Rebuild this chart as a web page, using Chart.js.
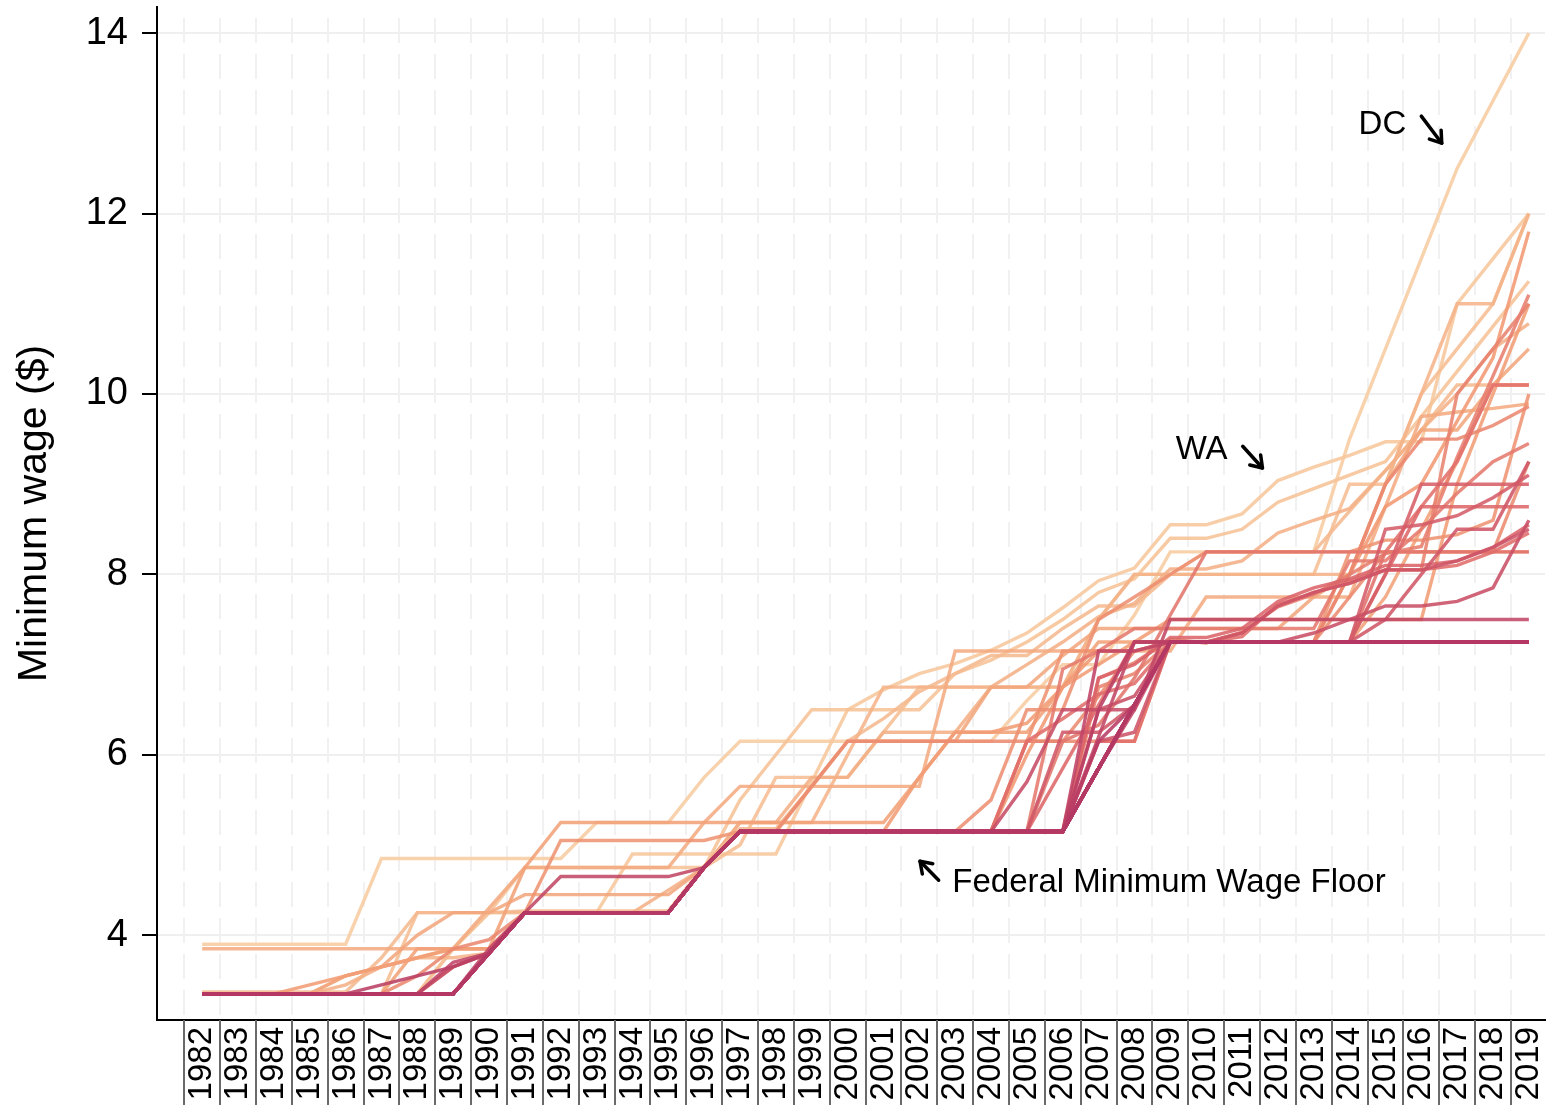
<!DOCTYPE html>
<html>
<head>
<meta charset="utf-8">
<script src="https://cdn.jsdelivr.net/npm/chart.js@4.4.0/dist/chart.umd.min.js"></script>
<style>
  html, body { margin: 0; padding: 0; background: #fff; }
</style>
</head>
<body>
<canvas id="grafica" width="1550" height="1105"></canvas>
<script>
// Años y ticks
const years = [1982, 1983, 1984, 1985, 1986, 1987, 1988, 1989,
  1990, 1991, 1992, 1993, 1994, 1995, 1996, 1997, 1998, 1999,
  2000, 2001, 2002, 2003, 2004, 2005, 2006, 2007, 2008, 2009,
  2010, 2011, 2012, 2013, 2014, 2015, 2016, 2017, 2018, 2019];
const yTicks = [4, 6, 8, 10, 12, 14];

// Salario mínimo federal (piso)
const fed = [3.35, 3.35, 3.35, 3.35, 3.35, 3.35, 3.35, 3.35,
  3.80, 4.25, 4.25, 4.25, 4.25, 4.25, 4.75, 5.15, 5.15, 5.15,
  5.15, 5.15, 5.15, 5.15, 5.15, 5.15, 5.15, 5.85, 6.55, 7.25,
  7.25, 7.25, 7.25, 7.25, 7.25, 7.25, 7.25, 7.25, 7.25, 7.25];
// Estados que siguen exactamente el piso federal
const federalStates = ["AL", "GA", "ID", "IN", "KS", "KY", "LA", "MS",
  "ND", "OK", "SC", "TN", "TX", "UT", "VA", "WY"];

const DC = [3.90, 3.90, 3.90, 3.90, 3.90, 4.85, 4.85, 4.85,
  4.85, 4.85, 4.85, 5.25, 5.25, 5.25, 5.75, 6.15, 6.15, 6.15,
  6.15, 6.15, 6.15, 6.15, 6.15, 6.60, 7.00, 7.00, 7.55, 8.25,
  8.25, 8.25, 8.25, 8.25, 9.50, 10.50, 11.50, 12.50, 13.25, 14.00];
const AK = [3.85, 3.85, 3.85, 3.85, 3.85, 3.85, 3.85, 3.85,
  4.30, 4.75, 4.75, 4.75, 4.75, 4.75, 5.25, 5.65, 5.65, 5.65,
  5.65, 5.65, 5.65, 7.15, 7.15, 7.15, 7.15, 7.15, 7.15, 7.15,
  7.75, 7.75, 7.75, 7.75, 7.75, 8.75, 9.75, 9.80, 9.84, 9.89];
const AZ = [3.35, 3.35, 3.35, 3.35, 3.35, 3.35, 3.35, 3.35,
  3.80, 4.25, 4.25, 4.25, 4.25, 4.25, 4.75, 5.15, 5.15, 5.15,
  5.15, 5.15, 5.15, 5.15, 5.15, 5.15, 5.15, 6.75, 6.90, 7.25,
  7.25, 7.35, 7.65, 7.80, 7.90, 8.05, 8.05, 10.00, 10.50, 11.00];
const AR = [3.35, 3.35, 3.35, 3.35, 3.35, 3.35, 3.35, 3.35,
  3.80, 4.25, 4.25, 4.25, 4.25, 4.25, 4.75, 5.15, 5.15, 5.15,
  5.15, 5.15, 5.15, 5.15, 5.15, 5.15, 6.25, 6.25, 6.55, 7.25,
  7.25, 7.25, 7.25, 7.25, 7.25, 7.50, 8.00, 8.50, 8.50, 9.25];
const CA = [3.35, 3.35, 3.35, 3.35, 3.35, 3.35, 4.25, 4.25,
  4.25, 4.25, 4.25, 4.25, 4.25, 4.25, 4.75, 5.00, 5.75, 5.75,
  5.75, 6.25, 6.75, 6.75, 6.75, 6.75, 6.75, 7.50, 8.00, 8.00,
  8.00, 8.00, 8.00, 8.00, 9.00, 9.00, 10.00, 10.50, 11.00, 12.00];
const CO = [3.35, 3.35, 3.35, 3.35, 3.35, 3.35, 3.35, 3.35,
  3.80, 4.25, 4.25, 4.25, 4.25, 4.25, 4.75, 5.15, 5.15, 5.15,
  5.15, 5.15, 5.15, 5.15, 5.15, 5.15, 5.15, 6.85, 7.02, 7.28,
  7.24, 7.36, 7.64, 7.78, 8.00, 8.23, 8.31, 9.30, 10.20, 11.10];
const CT = [3.37, 3.37, 3.37, 3.37, 3.37, 3.75, 4.25, 4.25,
  4.25, 4.27, 4.27, 4.27, 4.27, 4.27, 4.77, 5.18, 5.18, 5.65,
  6.15, 6.40, 6.70, 6.90, 7.10, 7.10, 7.40, 7.65, 7.65, 8.00,
  8.25, 8.25, 8.25, 8.25, 8.70, 9.15, 9.60, 10.10, 10.10, 10.10];
const DE = [3.35, 3.35, 3.35, 3.35, 3.35, 3.35, 3.35, 3.65,
  3.80, 4.25, 4.25, 4.25, 4.25, 4.25, 4.75, 5.15, 5.15, 5.65,
  6.15, 6.15, 6.15, 6.15, 6.15, 6.15, 6.15, 6.65, 7.15, 7.25,
  7.25, 7.25, 7.25, 7.25, 7.75, 8.25, 8.25, 8.25, 8.25, 9.25];
const FL = [3.35, 3.35, 3.35, 3.35, 3.35, 3.35, 3.35, 3.35,
  3.80, 4.25, 4.25, 4.25, 4.25, 4.25, 4.75, 5.15, 5.15, 5.15,
  5.15, 5.15, 5.15, 5.15, 5.15, 6.15, 6.40, 6.67, 6.79, 7.25,
  7.25, 7.31, 7.67, 7.79, 7.93, 8.05, 8.05, 8.10, 8.25, 8.46];
const HI = [3.35, 3.35, 3.35, 3.35, 3.35, 3.35, 3.85, 3.85,
  3.85, 4.75, 5.25, 5.25, 5.25, 5.25, 5.25, 5.25, 5.25, 5.25,
  5.25, 5.25, 5.75, 6.25, 6.25, 6.25, 6.75, 7.25, 7.25, 7.25,
  7.25, 7.25, 7.25, 7.25, 7.25, 7.75, 8.50, 9.25, 10.10, 10.10];
const IL = [3.35, 3.35, 3.35, 3.35, 3.35, 3.35, 3.35, 3.35,
  3.80, 4.25, 4.25, 4.25, 4.25, 4.25, 4.75, 5.15, 5.15, 5.15,
  5.15, 5.15, 5.15, 5.15, 5.50, 6.50, 6.50, 7.50, 7.75, 8.00,
  8.25, 8.25, 8.25, 8.25, 8.25, 8.25, 8.25, 8.25, 8.25, 8.25];
const IA = [3.35, 3.35, 3.35, 3.35, 3.35, 3.35, 3.35, 3.35,
  3.85, 4.25, 4.65, 4.65, 4.65, 4.65, 4.75, 5.15, 5.15, 5.15,
  5.15, 5.15, 5.15, 5.15, 5.15, 5.15, 5.15, 6.20, 7.25, 7.25,
  7.25, 7.25, 7.25, 7.25, 7.25, 7.25, 7.25, 7.25, 7.25, 7.25];
const ME = [3.35, 3.35, 3.35, 3.45, 3.55, 3.65, 3.75, 3.85,
  3.85, 4.25, 4.25, 4.25, 4.25, 4.25, 4.75, 5.15, 5.15, 5.15,
  5.15, 5.15, 5.75, 6.25, 6.25, 6.35, 6.75, 7.00, 7.25, 7.50,
  7.50, 7.50, 7.50, 7.50, 7.50, 7.50, 7.50, 9.00, 10.00, 11.00];
const MD = [3.35, 3.35, 3.35, 3.35, 3.35, 3.35, 3.35, 3.35,
  3.80, 4.25, 4.25, 4.25, 4.25, 4.25, 4.75, 5.15, 5.15, 5.15,
  5.15, 5.15, 5.15, 5.15, 5.15, 5.15, 5.15, 6.15, 6.15, 7.25,
  7.25, 7.25, 7.25, 7.25, 7.25, 8.25, 8.75, 9.25, 10.10, 10.10];
const MA = [3.35, 3.35, 3.35, 3.35, 3.55, 3.65, 3.75, 3.75,
  3.80, 4.25, 4.25, 4.25, 4.25, 4.25, 4.75, 5.25, 5.25, 5.25,
  6.00, 6.75, 6.75, 6.75, 6.75, 6.75, 6.75, 7.50, 8.00, 8.00,
  8.00, 8.00, 8.00, 8.00, 8.00, 9.00, 10.00, 11.00, 11.00, 12.00];
const MI = [3.35, 3.35, 3.35, 3.35, 3.35, 3.35, 3.35, 3.35,
  3.80, 4.25, 4.25, 4.25, 4.25, 4.25, 4.75, 5.15, 5.15, 5.15,
  5.15, 5.15, 5.15, 5.15, 5.15, 5.15, 6.95, 7.15, 7.40, 7.40,
  7.40, 7.40, 7.40, 7.40, 8.15, 8.15, 8.50, 8.90, 9.25, 9.45];
const MN = [3.35, 3.35, 3.35, 3.35, 3.35, 3.35, 3.55, 3.85,
  3.95, 4.25, 4.25, 4.25, 4.25, 4.25, 4.75, 5.15, 5.15, 5.15,
  5.15, 5.15, 5.15, 5.15, 5.15, 6.15, 6.15, 6.15, 6.15, 7.25,
  7.25, 7.25, 7.25, 7.25, 8.00, 9.00, 9.50, 9.50, 9.65, 9.86];
const MO = [3.35, 3.35, 3.35, 3.35, 3.35, 3.35, 3.35, 3.35,
  3.80, 4.25, 4.25, 4.25, 4.25, 4.25, 4.75, 5.15, 5.15, 5.15,
  5.15, 5.15, 5.15, 5.15, 5.15, 5.15, 5.15, 6.50, 6.65, 7.25,
  7.25, 7.25, 7.25, 7.35, 7.50, 7.65, 7.65, 7.70, 7.85, 8.60];
const MT = [3.35, 3.35, 3.35, 3.35, 3.35, 3.35, 3.35, 3.35,
  3.80, 4.25, 4.25, 4.25, 4.25, 4.25, 4.75, 5.15, 5.15, 5.15,
  5.15, 5.15, 5.15, 5.15, 5.15, 5.15, 5.15, 6.15, 6.25, 7.25,
  7.25, 7.35, 7.65, 7.80, 7.90, 8.05, 8.05, 8.15, 8.30, 8.50];
const NE = [3.35, 3.35, 3.35, 3.35, 3.35, 3.35, 3.35, 3.35,
  3.80, 4.25, 4.25, 4.25, 4.25, 4.25, 4.75, 5.15, 5.15, 5.15,
  5.15, 5.15, 5.15, 5.15, 5.15, 5.15, 5.15, 5.85, 6.55, 7.25,
  7.25, 7.25, 7.25, 7.25, 7.25, 8.00, 9.00, 9.00, 9.00, 9.00];
const NV = [3.35, 3.35, 3.35, 3.35, 3.35, 3.35, 3.35, 3.35,
  3.80, 4.25, 4.25, 4.25, 4.25, 4.25, 4.75, 5.15, 5.15, 5.15,
  5.15, 5.15, 5.15, 5.15, 5.15, 5.15, 6.15, 6.33, 6.85, 7.55,
  8.25, 8.25, 8.25, 8.25, 8.25, 8.25, 8.25, 8.25, 8.25, 8.25];
const NH = [3.35, 3.35, 3.35, 3.35, 3.35, 3.45, 3.55, 3.65,
  3.80, 4.25, 4.25, 4.25, 4.25, 4.25, 4.75, 5.15, 5.15, 5.15,
  5.15, 5.15, 5.15, 5.15, 5.15, 5.15, 5.15, 6.50, 7.25, 7.25,
  7.25, 7.25, 7.25, 7.25, 7.25, 7.25, 7.25, 7.25, 7.25, 7.25];
const NJ = [3.35, 3.35, 3.35, 3.35, 3.35, 3.35, 3.35, 3.35,
  3.80, 4.25, 5.05, 5.05, 5.05, 5.05, 5.05, 5.15, 5.15, 5.15,
  5.15, 5.15, 5.15, 5.15, 5.15, 6.15, 7.15, 7.15, 7.15, 7.25,
  7.25, 7.25, 7.25, 7.25, 8.25, 8.38, 8.38, 8.44, 8.60, 10.00];
const NM = [3.35, 3.35, 3.35, 3.35, 3.35, 3.35, 3.35, 3.35,
  3.80, 4.25, 4.25, 4.25, 4.25, 4.25, 4.75, 5.15, 5.15, 5.15,
  5.15, 5.15, 5.15, 5.15, 5.15, 5.15, 5.15, 5.85, 6.50, 7.50,
  7.50, 7.50, 7.50, 7.50, 7.50, 7.50, 7.50, 7.50, 7.50, 7.50];
const NY = [3.35, 3.35, 3.35, 3.35, 3.35, 3.35, 3.35, 3.35,
  3.80, 4.25, 4.25, 4.25, 4.25, 4.25, 4.75, 5.15, 5.15, 5.15,
  5.15, 5.15, 5.15, 5.15, 5.15, 6.00, 6.75, 7.15, 7.15, 7.25,
  7.25, 7.25, 7.25, 7.25, 8.00, 8.75, 9.00, 9.70, 10.40, 11.80];
const NC = [3.35, 3.35, 3.35, 3.35, 3.35, 3.35, 3.35, 3.35,
  3.80, 4.25, 4.25, 4.25, 4.25, 4.25, 4.75, 5.15, 5.15, 5.15,
  5.15, 5.15, 5.15, 5.15, 5.15, 5.15, 5.15, 6.15, 6.55, 7.25,
  7.25, 7.25, 7.25, 7.25, 7.25, 7.25, 7.25, 7.25, 7.25, 7.25];
const OH = [3.35, 3.35, 3.35, 3.35, 3.35, 3.35, 3.35, 3.35,
  3.80, 4.25, 4.25, 4.25, 4.25, 4.25, 4.75, 5.15, 5.15, 5.15,
  5.15, 5.15, 5.15, 5.15, 5.15, 5.15, 5.15, 6.85, 7.00, 7.30,
  7.30, 7.40, 7.70, 7.85, 7.95, 8.10, 8.10, 8.15, 8.30, 8.55];
const OR = [3.35, 3.35, 3.35, 3.35, 3.35, 3.35, 3.35, 3.85,
  4.25, 4.75, 4.75, 4.75, 4.75, 4.75, 4.75, 5.50, 6.00, 6.50,
  6.50, 6.50, 6.50, 6.90, 7.05, 7.25, 7.50, 7.80, 7.95, 8.40,
  8.40, 8.50, 8.80, 8.95, 9.10, 9.25, 9.75, 10.25, 10.75, 11.25];
const PA = [3.35, 3.35, 3.35, 3.35, 3.35, 3.35, 3.35, 3.70,
  3.80, 4.25, 4.25, 4.25, 4.25, 4.25, 4.75, 5.15, 5.15, 5.15,
  5.15, 5.15, 5.15, 5.15, 5.15, 5.15, 5.15, 7.15, 7.15, 7.25,
  7.25, 7.25, 7.25, 7.25, 7.25, 7.25, 7.25, 7.25, 7.25, 7.25];
const RI = [3.35, 3.35, 3.35, 3.35, 3.55, 3.65, 4.00, 4.25,
  4.25, 4.45, 4.45, 4.45, 4.45, 4.45, 4.75, 5.15, 5.15, 5.65,
  6.15, 6.15, 6.15, 6.15, 6.75, 6.75, 7.10, 7.40, 7.40, 7.40,
  7.40, 7.40, 7.40, 7.75, 8.00, 9.00, 9.60, 9.60, 10.10, 10.50];
const SD = [3.35, 3.35, 3.35, 3.35, 3.35, 3.35, 3.35, 3.35,
  3.80, 4.25, 4.25, 4.25, 4.25, 4.25, 4.75, 5.15, 5.15, 5.15,
  5.15, 5.15, 5.15, 5.15, 5.15, 5.15, 5.15, 5.85, 6.55, 7.25,
  7.25, 7.25, 7.25, 7.25, 7.25, 8.50, 8.55, 8.65, 8.85, 9.10];
const VT = [3.35, 3.35, 3.35, 3.35, 3.45, 3.65, 3.75, 3.85,
  3.85, 4.25, 4.25, 4.25, 4.25, 4.50, 4.75, 5.25, 5.25, 5.75,
  5.75, 6.25, 6.25, 6.25, 6.75, 7.00, 7.25, 7.53, 7.68, 8.06,
  8.06, 8.15, 8.46, 8.60, 8.73, 9.15, 9.60, 10.00, 10.50, 10.78];
const WA = [3.35, 3.35, 3.35, 3.35, 3.35, 3.35, 3.35, 3.85,
  4.25, 4.25, 4.25, 4.25, 4.90, 4.90, 4.90, 4.90, 4.90, 5.70,
  6.50, 6.72, 6.90, 7.01, 7.16, 7.35, 7.63, 7.93, 8.07, 8.55,
  8.55, 8.67, 9.04, 9.19, 9.32, 9.47, 9.47, 11.00, 11.50, 12.00];
const WV = [3.35, 3.35, 3.35, 3.35, 3.35, 3.35, 3.35, 3.35,
  3.80, 4.25, 4.25, 4.25, 4.25, 4.25, 4.75, 5.15, 5.15, 5.15,
  5.15, 5.15, 5.15, 5.15, 5.15, 5.15, 5.85, 6.55, 7.25, 7.25,
  7.25, 7.25, 7.25, 7.25, 7.25, 8.00, 8.75, 8.75, 8.75, 8.75];
const WI = [3.35, 3.35, 3.35, 3.35, 3.35, 3.35, 3.35, 3.65,
  3.80, 4.25, 4.25, 4.25, 4.25, 4.25, 4.75, 5.15, 5.15, 5.15,
  5.15, 5.15, 5.15, 5.15, 5.15, 5.70, 6.50, 6.50, 6.50, 7.25,
  7.25, 7.25, 7.25, 7.25, 7.25, 7.25, 7.25, 7.25, 7.25, 7.25];

const FONT = "'Liberation Sans', Arial, Helvetica, sans-serif";

// Anotaciones en coordenadas de datos (año, dólares)
const notas = [
  { text: "DC", at: [2014.25, 12.98], from: [2016.0, 13.08], to: [2016.57, 12.78] },
  { text: "WA", at: [2009.15, 9.38], from: [2011.02, 9.42], to: [2011.57, 9.18] },
  { text: "Federal Minimum Wage Floor", at: [2002.92, 4.58], from: [2002.54, 4.61], to: [2002.02, 4.82] }
];

const series = [
  ["DC", DC], ["AK", AK], ["AZ", AZ], ["AR", AR], ["CA", CA], ["CO", CO], ["CT", CT],
  ["DE", DE], ["FL", FL], ["HI", HI], ["IL", IL], ["IA", IA], ["ME", ME], ["MD", MD],
  ["MA", MA], ["MI", MI], ["MN", MN], ["MO", MO], ["MT", MT], ["NE", NE], ["NV", NV],
  ["NH", NH], ["NJ", NJ], ["NM", NM], ["NY", NY], ["NC", NC], ["OH", OH], ["OR", OR],
  ["PA", PA], ["RI", RI], ["SD", SD], ["VT", VT], ["WA", WA], ["WV", WV], ["WI", WI]
];
federalStates.forEach(s => series.push([s, fed]));

// Color según el rango del promedio (más alto = más claro)
const promedio = a => a.reduce((s, v) => s + v, 0) / a.length;
const niveles = [...new Set(series.map(([, v]) => promedio(v).toFixed(4)))]
  .map(Number).sort((a, b) => b - a);
const paradas = [
  [0, [247, 204, 160]],
  [0.3, [242, 156, 116]],
  [0.65, [222, 104, 106]],
  [1, [180, 56, 100]]
];
function colorPara(t) {
  for (let i = 1; i < paradas.length; i++) {
    const [t0, c0] = paradas[i - 1], [t1, c1] = paradas[i];
    if (t <= t1) {
      const f = (t - t0) / (t1 - t0);
      const c = c0.map((v, k) => Math.round(v + (c1[k] - v) * f));
      return `rgba(${c[0]},${c[1]},${c[2]},0.88)`;
    }
  }
  return "rgba(180,56,100,0.88)";
}

const datasets = series.map(([nombre, valores]) => {
  const t = niveles.indexOf(Number(promedio(valores).toFixed(4))) / (niveles.length - 1);
  return {
    label: nombre,
    data: years.map((yr, i) => ({ x: yr, y: valores[i] })),
    borderColor: colorPara(t),
    borderWidth: 3.4,
    pointRadius: 0,
    tension: 0,
    fill: false,
    t
  };
}).sort((a, b) => b.t - a.t); // los oscuros primero: se dibujan encima

function flecha(ctx, x1, y1, x2, y2) {
  ctx.beginPath();
  ctx.moveTo(x1, y1);
  ctx.lineTo(x2, y2);
  ctx.stroke();
  const ang = Math.atan2(y2 - y1, x2 - x1), h = 13;
  ctx.beginPath();
  ctx.moveTo(x2 - h * Math.cos(ang - 0.6), y2 - h * Math.sin(ang - 0.6));
  ctx.lineTo(x2, y2);
  ctx.lineTo(x2 - h * Math.cos(ang + 0.6), y2 - h * Math.sin(ang + 0.6));
  ctx.stroke();
}

const cuadricula = {
  id: "cuadricula",
  beforeDatasetsDraw(chart) {
    const { ctx, chartArea: a, scales: { x } } = chart;
    ctx.save();
    ctx.strokeStyle = "#f1f1f1";
    ctx.lineWidth = 2;
    ctx.setLineDash([25, 11]);
    ctx.lineDashOffset = 25;
    years.forEach(yr => {
      const px = Math.round(x.getPixelForValue(yr - 0.5));
      ctx.beginPath();
      ctx.moveTo(px, a.top);
      ctx.lineTo(px, a.bottom);
      ctx.stroke();
    });
    ctx.restore();
  },
  afterDraw(chart) {
    const { ctx, chartArea: a, scales: { x, y } } = chart;
    ctx.save();
    // divisiones entre etiquetas del eje x
    ctx.strokeStyle = "#6a6a6a";
    ctx.lineWidth = 2;
    years.forEach(yr => {
      const px = Math.round(x.getPixelForValue(yr - 0.5));
      ctx.beginPath();
      ctx.moveTo(px, a.bottom);
      ctx.lineTo(px, chart.height);
      ctx.stroke();
    });
    // anotaciones
    ctx.fillStyle = "#000";
    ctx.strokeStyle = "#000";
    ctx.lineWidth = 3.5;
    ctx.lineCap = "round";
    ctx.lineJoin = "round";
    ctx.font = `33px ${FONT}`;
    ctx.textBaseline = "middle";
    notas.forEach(n => {
      ctx.fillText(n.text, x.getPixelForValue(n.at[0]), y.getPixelForValue(n.at[1]));
      flecha(ctx,
        x.getPixelForValue(n.from[0]), y.getPixelForValue(n.from[1]),
        x.getPixelForValue(n.to[0]), y.getPixelForValue(n.to[1]));
    });
    ctx.restore();
  }
};

new Chart(document.getElementById("grafica"), {
  type: "line",
  data: { datasets },
  plugins: [cuadricula],
  options: {
    responsive: false,
    animation: false,
    devicePixelRatio: 1,
    layout: { padding: { top: 7, right: 5, left: 0, bottom: 0 } },
    plugins: { legend: { display: false }, tooltip: { enabled: false } },
    scales: {
      x: {
        type: "linear",
        min: 1980.74,
        max: 2019.45,
        afterBuildTicks: s => { s.ticks = years.map(v => ({ value: v })); },
        afterFit: s => { s.height = 85; s.paddingLeft = 0; s.paddingRight = 0; },
        grid: { display: false, drawTicks: false },
        border: { display: true, color: "#000", width: 2 },
        ticks: {
          autoSkip: false,
          minRotation: 90,
          maxRotation: 90,
          padding: 7,
          color: "#000",
          font: { family: FONT, size: 33 },
          callback: v => String(v)
        }
      },
      y: {
        min: 3.06,
        max: 14.29,
        afterBuildTicks: s => { s.ticks = yTicks.map(v => ({ value: v })); },
        afterFit: s => { s.width = 157; s.paddingTop = 0; s.paddingBottom = 0; },
        grid: {
          color: "#efefef",
          lineWidth: 2,
          borderDash: [25, 11],
          tickColor: "#000",
          tickWidth: 2,
          tickLength: 15,
          tickBorderDash: []
        },
        border: { color: "#000", width: 2 },
        ticks: { padding: 14, color: "#000", font: { family: FONT, size: 38 } },
        title: {
          display: true,
          text: "Minimum wage ($)",
          color: "#000",
          font: { family: FONT, size: 41 },
          padding: { top: 10, bottom: 0 }
        }
      }
    }
  }
});
</script>
</body>
</html>
